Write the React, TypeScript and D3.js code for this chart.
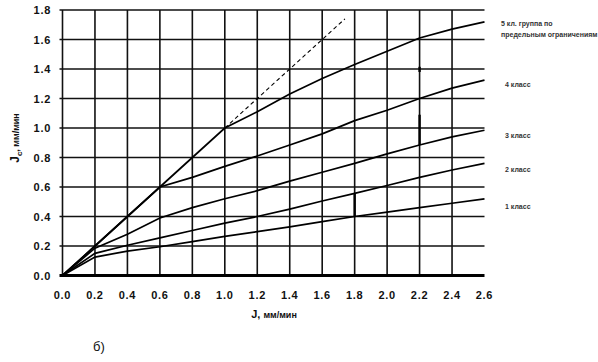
import * as d3 from "d3";

const xValues = [0, 0.2, 0.4, 0.6, 0.8, 1.0, 1.2, 1.4, 1.6, 1.8, 2.0, 2.2, 2.4, 2.6];
const class5 = [0, 0.2, 0.4, 0.6, 0.8, 1.0, 1.11, 1.23, 1.335, 1.43, 1.52, 1.61, 1.67, 1.72];
const class4 = [0, 0.2, 0.4, 0.6, 0.665, 0.74, 0.81, 0.885, 0.96, 1.05, 1.12, 1.2, 1.27, 1.325];
const class3 = [0, 0.185, 0.28, 0.39, 0.46, 0.52, 0.575, 0.64, 0.7, 0.76, 0.825, 0.885, 0.94, 0.985];
const class2 = [0, 0.15, 0.205, 0.255, 0.305, 0.355, 0.4, 0.45, 0.505, 0.557, 0.61, 0.665, 0.715, 0.76];
const class1 = [0, 0.125, 0.165, 0.195, 0.23, 0.265, 0.297, 0.33, 0.365, 0.4, 0.43, 0.46, 0.49, 0.52];
const dashedLine: [number, number][] = [[1.0, 1.0], [1.74, 1.74]];
const xTicks = [0, 0.2, 0.4, 0.6, 0.8, 1.0, 1.2, 1.4, 1.6, 1.8, 2.0, 2.2, 2.4, 2.6];
const yTicks = [0, 0.2, 0.4, 0.6, 0.8, 1.0, 1.2, 1.4, 1.6, 1.8];
const curveLabels = [
  { lines: ["5 кл. группа по", "предельным ограничениям"], y: 1.69 },
  { lines: ["4 класс"], y: 1.28 },
  { lines: ["3 класс"], y: 0.93 },
  { lines: ["2 класс"], y: 0.7 },
  { lines: ["1 класс"], y: 0.45 },
];
// emphasised segments on the 1.8 and 2.2 grid lines
const marks: { x: number; y0: number; y1: number }[] = [
  { x: 1.8, y0: 0.4, y1: 0.557 },
  { x: 2.2, y0: 0.885, y1: 1.09 },
  { x: 2.2, y0: 1.38, y1: 1.415 },
];

const font = "'Liberation Sans', Arial, sans-serif";

export default function App() {
  const width = 598, height = 362;
  const x = d3.scaleLinear().domain([0, 2.6]).range([62.5, 484.5]);
  const y = d3.scaleLinear().domain([0, 1.8]).range([275.5, 10]);
  const series = [class5, class4, class3, class2, class1];
  const line = d3.line<number>().x((_, i) => x(xValues[i])).y(d => y(d));
  const dLine = d3.line<[number, number]>().x(d => x(d[0])).y(d => y(d[1]));

  return (
    <svg width={width} height={height} style={{ position: "absolute", left: 0, top: 0, background: "#fff" }}>
      {/* grid */}
      {xTicks.slice(1, -1).map(t => (
        <line key={"gx" + t} x1={x(t)} x2={x(t)} y1={y(1.8)} y2={y(0)} stroke="#111" strokeWidth={1.6} />
      ))}
      {yTicks.slice(1).map(t => (
        <line key={"gy" + t} x1={x(0) - 3} x2={x(2.6)} y1={y(t)} y2={y(t)} stroke="#111" strokeWidth={1.6} />
      ))}
      <line x1={x(0)} x2={x(0)} y1={y(1.8)} y2={y(0)} stroke="#111" strokeWidth={1.6} />
      <line x1={x(0) - 3} x2={x(2.6)} y1={y(0)} y2={y(0)} stroke="#000" strokeWidth={2.8} />

      {/* curves */}
      {series.map((s, i) => (
        <path key={"s" + i} d={line(s) || ""} fill="none" stroke="#000" strokeWidth={1.7} />
      ))}
      <path d={dLine(dashedLine) || ""} fill="none" stroke="#000" strokeWidth={1.1} strokeDasharray="4,3" />
      {marks.map((m, i) => (
        <line key={"m" + i} x1={x(m.x)} x2={x(m.x)} y1={y(m.y0)} y2={y(m.y1)} stroke="#000" strokeWidth={2.4} />
      ))}

      {/* tick labels */}
      {yTicks.map(t => (
        <text key={"ty" + t} x={51} y={y(t) + 4} textAnchor="end" fontFamily={font} fontWeight="bold" fontSize={11} letterSpacing={0.7} fill="#111">
          {t.toFixed(1)}
        </text>
      ))}
      {xTicks.map(t => (
        <text key={"tx" + t} x={x(t)} y={299} textAnchor="middle" fontFamily={font} fontWeight="bold" fontSize={11} letterSpacing={0.7} fill="#111">
          {t.toFixed(1)}
        </text>
      ))}

      {/* axis titles */}
      <text x={274} y={318} textAnchor="middle" fontFamily={font} fontWeight="bold" fontSize={11} fill="#111">
        J, <tspan fontSize={9}>мм/мин</tspan>
      </text>
      <text transform="translate(19,138) rotate(-90)" textAnchor="middle" fontFamily={font} fontWeight="bold" fontSize={12} fill="#111">
        J<tspan fontSize={8} dy={3}>c</tspan><tspan fontSize={9} dy={-3}>, мм/мин</tspan>
      </text>

      {/* curve labels */}
      {curveLabels.map((c, i) =>
        c.lines.map((l, j) => (
          <text key={"cl" + i + j} x={i === 0 ? 501 : 505} y={y(c.y) + j * 11} fontFamily={font} fontWeight="bold" fontSize={7} fill="#333">
            {l}
          </text>
        ))
      )}

      <text x={93} y={351} fontFamily={font} fontSize={13} fill="#111">б)</text>
    </svg>
  );
}
